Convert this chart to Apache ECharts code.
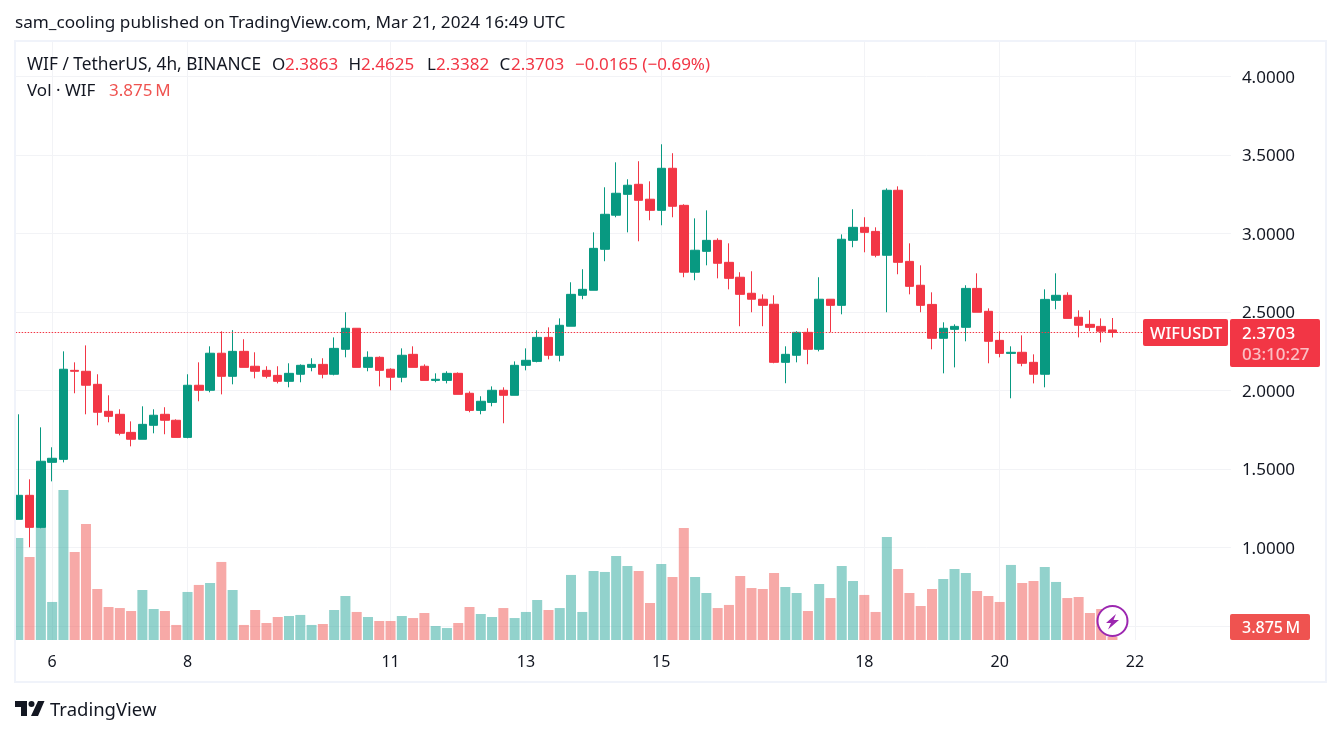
<!DOCTYPE html>
<html>
<head>
<meta charset="utf-8">
<title>WIF / TetherUS 4h</title>
<style>
  html, body { margin: 0; padding: 0; background: #fff; }
  #main { width: 1341px; height: 735px; }
</style>
</head>
<body>
<div id="main"></div>
<script src="https://cdn.jsdelivr.net/npm/echarts@6/dist/echarts.min.js"></script>
<script>
// 4h candles, first one is Mar 5 12:00
var opens = [1.180,1.333,1.129,1.543,1.562,2.129,2.123,2.040,1.868,1.849,1.734,1.690,1.779,1.849,1.811,1.702,2.034,2.002,2.238,2.091,2.250,2.155,2.129,2.097,2.059,2.104,
  2.148,2.167,2.104,2.263,2.397,2.148,2.212,2.136,2.085,2.231,2.155,2.065,2.065,2.110,1.983,1.874,1.925,2.002,1.970,2.161,2.186,2.339,2.225,
  2.410,2.607,2.639,2.900,3.117,3.250,3.314,3.219,3.148,3.416,3.180,2.754,2.887,2.957,2.817,2.722,2.620,2.582,2.550,2.180,2.225,2.371,2.263,2.582,
  2.543,2.957,3.040,3.014,2.862,3.276,2.823,2.671,2.549,2.333,2.390,2.403,2.651,2.505,2.320,2.237,2.244,2.180,2.104,2.575,2.607,2.467,2.422,2.409,2.3863];
var closes = [1.333,1.129,1.550,1.569,2.136,2.123,2.034,1.862,1.836,1.728,1.690,1.785,1.843,1.811,1.702,2.034,2.002,2.238,2.091,2.250,2.148,2.123,2.091,2.059,2.110,2.161,
  2.167,2.104,2.269,2.397,2.148,2.212,2.129,2.085,2.225,2.148,2.065,2.072,2.110,1.976,1.874,1.932,2.002,1.970,2.161,2.193,2.339,2.225,2.416,
  2.613,2.645,2.906,3.123,3.257,3.308,3.212,3.148,3.416,3.174,2.754,2.894,2.957,2.811,2.715,2.613,2.582,2.543,2.180,2.231,2.371,2.263,2.582,2.543,
  2.964,3.040,3.008,2.862,3.276,2.817,2.664,2.543,2.333,2.397,2.409,2.651,2.499,2.314,2.237,2.244,2.174,2.104,2.581,2.607,2.460,2.416,2.403,2.378,2.3703];
var lows = [1.180,1.002,1.123,1.422,1.543,1.983,1.849,1.779,1.798,1.715,1.645,1.690,1.728,1.722,1.702,1.696,1.932,1.989,1.976,2.040,2.148,2.078,2.078,2.046,2.021,2.053,
  2.123,2.078,2.097,2.212,2.148,2.123,2.027,2.002,2.053,2.148,2.065,2.053,2.046,1.976,1.862,1.849,1.900,1.792,1.970,2.129,2.180,2.199,2.186,
  2.410,2.582,2.639,2.824,3.104,3.008,2.951,3.085,3.053,3.104,2.722,2.703,2.798,2.715,2.645,2.410,2.499,2.410,2.174,2.047,2.180,2.168,2.250,2.371,
  2.486,2.913,2.881,2.849,2.499,2.741,2.613,2.499,2.263,2.110,2.148,2.314,2.499,2.174,2.212,1.951,2.155,2.046,2.021,2.518,2.460,2.339,2.378,2.307,2.3382];
var highs = [1.849,1.435,1.766,1.639,2.250,2.180,2.288,2.104,1.970,1.881,1.804,1.900,1.881,1.894,1.817,2.104,2.180,2.282,2.378,2.385,2.327,2.244,2.155,2.155,2.174,2.167,
  2.206,2.206,2.339,2.499,2.397,2.250,2.218,2.142,2.269,2.282,2.167,2.110,2.123,2.116,1.995,1.964,2.027,2.021,2.186,2.269,2.384,2.403,2.460,
  2.690,2.773,3.008,3.295,3.454,3.346,3.461,3.333,3.569,3.512,3.187,3.097,3.148,2.970,2.938,2.754,2.760,2.613,2.607,2.282,2.378,2.397,2.722,2.582,
  2.995,3.155,3.104,3.040,3.288,3.301,2.938,2.798,2.626,2.435,2.422,2.671,2.747,2.524,2.378,2.282,2.352,2.231,2.645,2.747,2.626,2.511,2.511,2.460,2.4625];
// volume in millions
var volumes = [119.3,97.1,166.1,44.5,175.5,103,135.7,59.7,38.6,37.4,33.9,58.5,36.3,33.9,17.6,56.2,64.4,66.7,91.3,58.5,17.6,35.1,19.9,26.9,28.1,29.3,
  17.6,18.7,35.1,51.5,32.8,26.9,22.2,22.2,28.1,25.7,31.6,16.4,14,19.9,38.6,30.4,26.9,37.4,25.7,32.8,46.8,35.1,37.4,
  76.1,32.8,80.7,79.6,98.3,86.6,80.7,43.3,88.9,73.7,131,73.7,55,37.4,41,74.9,60.8,59.7,78.4,62,55,33.9,65.5,49.1,
  86.6,69,52.7,32.8,120.5,83.1,55,39.8,59.7,71.4,83.1,78.4,57.3,51.5,44.5,87.8,66.7,69,85.4,67.9,49.1,50.3,31.6,36.3,3.875];

var dayIndexes = [3,15,33,45,57,75,87,99];
var dayLabels = ['6','8','11','13','15','18','20','22'];
var slotCount = 108;
var lastPrice = 2.3703;
var priceTicks = [0.5,1,1.5,2,2.5,3,3.5,4];

var UP = '#089981', DOWN = '#F23645', INK = '#131722', GRID = '#f2f3f6';
var FONT = '"Noto Sans", sans-serif';

var categories = [];
for (var s = 0; s < slotCount; s++) {
  var at = dayIndexes.indexOf(s);
  categories.push(at >= 0 ? dayLabels[at] : 'bar ' + s);
}
var candles = opens.map(function (o, i) { return [o, closes[i], lows[i], highs[i]]; });
var volumeBars = volumes.map(function (v, i) {
  return { value: v, itemStyle: { color: closes[i] >= opens[i] ? 'rgba(38,166,154,0.5)' : 'rgba(239,83,80,0.5)' } };
});
function isDay(index) { return dayIndexes.indexOf(index) >= 0; }

function label(x, y, text, fill, size, weight) {
  return { type: 'text', z: 110, x: x, y: y, silent: true,
    style: { text: text, fill: fill, font: (weight || 400) + ' ' + (size || 17) + 'px ' + FONT, textVerticalAlign: 'middle' } };
}
function box(x, y, w, h, fill, r) {
  return { type: 'rect', z: 105, silent: true, shape: { x: x, y: y, width: w, height: h, r: r || 0 }, style: { fill: fill } };
}

var elements = [
  box(0, 0, 15, 735, '#fff'),
  box(1226, 330, 5, 5, '#fff'),
  { type: 'rect', z: 106, silent: true, shape: { x: 15, y: 41, width: 1311, height: 641 },
    style: { fill: 'none', stroke: '#f0f3fa', lineWidth: 2 } },

  label(15, 23, 'sam_cooling published on TradingView.com, Mar 21, 2024 16:49 UTC', INK, 17.15),

  label(27, 65, 'WIF / TetherUS, 4h, BINANCE', INK, 17.3),
  label(272, 65, 'O', INK), label(285, 65, '2.3863', DOWN),
  label(348.5, 65, 'H', INK), label(361, 65, '2.4625', DOWN),
  label(427, 65, 'L', INK), label(436, 65, '2.3382', DOWN),
  label(499.5, 65, 'C', INK), label(511, 65, '2.3703', DOWN),
  label(575, 65, '\u22120.0165 (\u22120.69%)', DOWN),
  label(27, 91, 'Vol \u00b7 WIF', INK),
  label(109, 91, '3.875\u2009M', '#EF5350'),

  box(1143, 319, 85, 27, DOWN, 2),
  label(1150, 334, 'WIFUSDT', '#fff', 16.5, 500),
  box(1230, 319, 90, 48, DOWN, 2),
  label(1242, 334, '2.3703', '#fff', 17, 500),
  label(1242, 355, '03:10:27', 'rgba(255,255,255,0.68)', 17, 500),
  box(1230, 614, 80, 26, '#EF5350', 2),
  label(1242, 628, '3.875\u2009M', '#fff', 16, 500),

  // lightning badge
  { type: 'circle', z: 107, silent: true, shape: { cx: 1112.5, cy: 621, r: 15 },
    style: { fill: '#fff', stroke: '#9C27B0', lineWidth: 2 } },
  { type: 'polygon', z: 108, silent: true,
    shape: { points: [[1116,614],[1106,623],[1111,623],[1108,629.5],[1119,620],[1113.5,620]] },
    style: { fill: '#9C27B0' } },

  // logo
  { type: 'polygon', z: 110, silent: true,
    shape: { points: [[15,701],[27,701],[27,716],[21,716],[21,707],[15,707]] }, style: { fill: INK } },
  { type: 'circle', z: 110, silent: true, shape: { cx: 31.5, cy: 704, r: 3 }, style: { fill: INK } },
  { type: 'polygon', z: 110, silent: true,
    shape: { points: [[38,701],[44.5,701],[38,716],[31,716]] }, style: { fill: INK } },
  label(50, 711, 'TradingView', INK, 18.5)
];

var chart = echarts.init(document.getElementById('main'));
chart.setOption({
  animation: false,
  backgroundColor: '#fff',
  textStyle: { fontFamily: FONT },
  grid: [
    // price pane, runs from the 4.0 line to the 0.5 line
    { left: 12.66, width: 1218.24, top: 76.6, height: 549.5 },
    // volume pane covers the whole chart height, carries the day axis
    { left: 12.66, width: 1218.24, top: 41.7, height: 598.3 }
  ],
  xAxis: [
    { type: 'category', gridIndex: 0, data: categories, show: false },
    { type: 'category', gridIndex: 1, data: categories,
      axisLine: { show: false }, axisTick: { show: false },
      axisLabel: { interval: function (i) { return isDay(i); }, color: INK, fontSize: 16, margin: 14, fontFamily: FONT },
      splitLine: { show: true, alignWithLabel: true, interval: function (i) { return isDay(i); },
        lineStyle: { color: GRID, width: 1 } } }
  ],
  yAxis: [
    { type: 'value', gridIndex: 0, position: 'right', min: priceTicks[0], max: priceTicks[priceTicks.length - 1], interval: 0.5,
      axisLine: { show: false }, axisTick: { show: false },
      axisLabel: { margin: 11, fontFamily: FONT,
        rich: { p: { color: INK, fontSize: 17, fontFamily: FONT, padding: [3, 0, 0, 0] } },
        formatter: function (v) { return v < 1 ? '' : '{p|' + v.toFixed(4) + '}'; } },
      splitLine: { lineStyle: { color: GRID, width: 1 } } },
    { type: 'value', gridIndex: 1, min: 0, max: 700, show: false, splitLine: { show: false } }
  ],
  series: [
    { name: 'Vol', type: 'bar', xAxisIndex: 1, yAxisIndex: 1, data: volumeBars, barWidth: 10, z: 1 },
    { name: 'WIF', type: 'candlestick', xAxisIndex: 0, yAxisIndex: 0, data: candles, barWidth: 9, z: 3,
      itemStyle: { color: UP, color0: DOWN, borderColor: UP, borderColor0: DOWN, borderWidth: 1 },
      markLine: { silent: true, symbol: 'none', label: { show: false }, animation: false,
        lineStyle: { color: DOWN, width: 1, type: [1.5, 1.5] },
        data: [{ yAxis: lastPrice }] } }
  ],
  graphic: { elements: elements }
});
</script>
</body>
</html>
